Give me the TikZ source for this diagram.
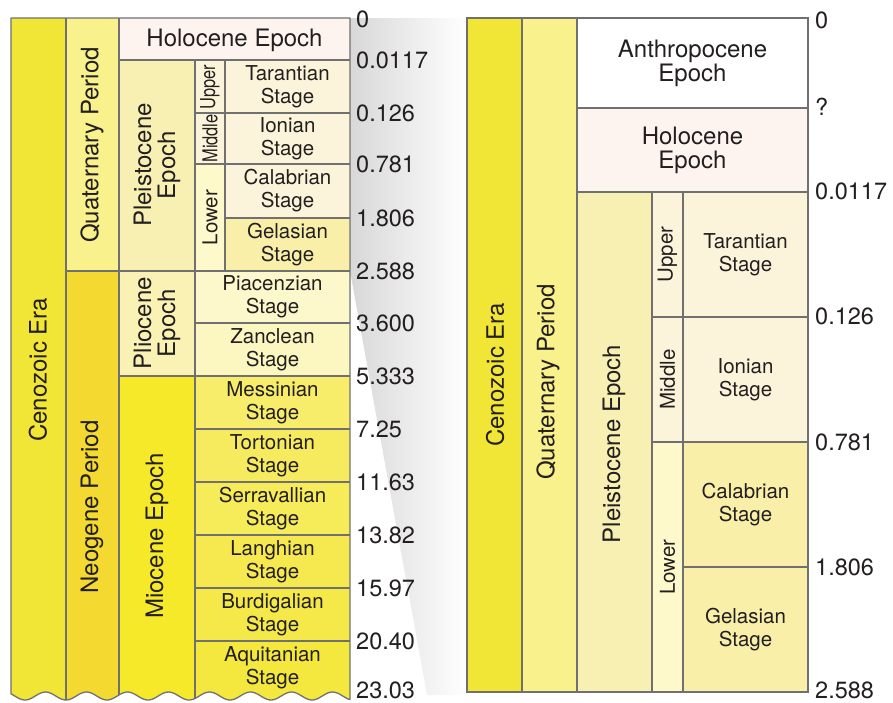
\documentclass[tikz,border=0pt]{standalone}
\usepackage{fontspec}
\setmainfont{TeX Gyre Heros}
\usepackage{graphicx}
\definecolor{txt}{HTML}{231F20}
\definecolor{grid}{HTML}{707070}
\definecolor{wedgegray}{HTML}{D8D8D8}
\definecolor{cera}{HTML}{F1E635}
\definecolor{cquat}{HTML}{F8F18C}
\definecolor{cneo}{HTML}{F3D930}
\definecolor{choloc}{HTML}{FDF3EF}
\definecolor{cpleist}{HTML}{F8F0B2}
\definecolor{ccream}{HTML}{FCF4DA}
\definecolor{clower}{HTML}{FDF9CA}
\definecolor{cgel}{HTML}{F9EFA8}
\definecolor{cplio}{HTML}{FAF2B5}
\definecolor{cpiac}{HTML}{FDF8CB}
\definecolor{czanc}{HTML}{FCF6C0}
\definecolor{cmio}{HTML}{F5E92A}
\definecolor{cmes}{HTML}{F7ED6A}
\definecolor{ctor}{HTML}{F6EB5E}
\definecolor{cser}{HTML}{F6EB58}
\definecolor{clan}{HTML}{F5E94F}
\definecolor{cbur}{HTML}{F5E849}
\definecolor{caqu}{HTML}{F4E73E}
\begin{document}
\begin{tikzpicture}[x=1pt,y=-1pt,
  gridline/.style={draw=grid,line width=1.3pt},
  lbl/.style={font=\fontsize{24}{24}\selectfont,align=center,text=txt,inner sep=0pt},
  stg/.style={font=\fontsize{20.5}{23}\selectfont,align=center,text=txt,inner sep=0pt},
  num/.style={font=\fontsize{23.5}{24}\selectfont,anchor=west,text=txt,inner sep=0pt}]
\useasboundingbox (0,0) rectangle (893,702);
% connecting wedge
\shade[left color=wedgegray,right color=white] (350,18) -- (467,18) -- (467,695) -- (427,695) -- (350,271) -- cycle;
% ---------------- left chart ----------------
\begin{scope}
\clip (11,18) -- (350,18) -- plot[domain=350:11,samples=160,smooth] (\x,{696+4*cos(8.7805*(\x-25))}) -- cycle;
\fill[cera] (11,18) rectangle (66,710);
\fill[cquat] (66,18) rectangle (119,271);
\fill[cneo] (66,271) rectangle (119,710);
\fill[choloc] (119,18) rectangle (350,60);
\fill[cpleist] (119,60) rectangle (195,271);
\fill[ccream] (195,60) rectangle (225,164);
\fill[clower] (195,164) rectangle (225,271);
\fill[ccream] (225,60) rectangle (350,218);
\fill[cgel] (225,218) rectangle (350,271);
\fill[cplio] (119,271) rectangle (195,376);
\fill[cpiac] (195,271) rectangle (350,323);
\fill[czanc] (195,323) rectangle (350,376);
\fill[cmio] (119,376) rectangle (195,710);
\fill[cmes] (195,376) rectangle (350,429);
\fill[ctor] (195,429) rectangle (350,482);
\fill[cser] (195,482) rectangle (350,535);
\fill[clan] (195,535) rectangle (350,588);
\fill[cbur] (195,588) rectangle (350,641);
\fill[caqu] (195,641) rectangle (350,710);
\draw[gridline] (66,18) -- (66,710) (119,18) -- (119,710) (195,60) -- (195,710) (225,60) -- (225,271);
\draw[gridline] (119,60) -- (350,60) (195,113) -- (350,113) (195,164) -- (350,164) (225,218) -- (350,218)
  (66,271) -- (350,271) (195,323) -- (350,323) (119,376) -- (350,376);
\foreach \yy in {429,482,535,588,641} \draw[gridline] (195,\yy) -- (350,\yy);
\end{scope}
\draw[gridline,line join=round] (11,18) -- (350,18) -- plot[domain=350:11,samples=160,smooth] (\x,{696+4*cos(8.7805*(\x-25))}) -- cycle;
% left labels
\node[lbl,rotate=90] (cenoL) at (38,370) {Cenozoic Era};
\node[lbl,rotate=90] (quatL) at (92,145) {Quaternary Period};
\node[lbl,rotate=90] (neoL) at (92,507) {Neogene Period};
\node[lbl] (holoL) at (234.5,40) {Holocene Epoch};
\node[lbl,rotate=90] (pleiL) at (157,165) {Pleistocene\\Epoch};
\node[lbl,rotate=90] (plioL) at (157,323) {Pliocene\\Epoch};
\node[lbl,rotate=90] (mioL) at (157,536) {Miocene Epoch};
\node[stg,rotate=90] (upL) at (210,87) {\scalebox{0.8}[1]{Upper}};
\node[stg,rotate=90] (midL) at (210,138.5) {\scalebox{0.8}[1]{Middle}};
\node[stg,rotate=90] (lowL) at (210,217.5) {Lower};
\node[stg] (tarL) at (287.5,86.5) {Tarantian\\Stage};
\node[stg] (ionL) at (287.5,138.5) {Ionian\\Stage};
\node[stg] (calL) at (287.5,191) {Calabrian\\Stage};
\node[stg] (gelL) at (287.5,244.5) {Gelasian\\Stage};
\node[stg] (piaL) at (272.5,297) {Piacenzian\\Stage};
\node[stg] (zanL) at (272.5,349.5) {Zanclean\\Stage};
\node[stg] (mesL) at (272.5,402.5) {Messinian\\Stage};
\node[stg] (torL) at (272.5,455.5) {Tortonian\\Stage};
\node[stg] (serL) at (272.5,508.5) {Serravallian\\Stage};
\node[stg] (lanL) at (272.5,561.5) {Langhian\\Stage};
\node[stg] (burL) at (272.5,614.5) {Burdigalian\\Stage};
\node[stg] (aquL) at (272.5,667.5) {Aquitanian\\Stage};
% left numbers
\foreach \yy/\t [count=\i] in {19/0,60/0.0117,113/0.126,164/0.781,218/1.806,271/2.588,323/3.600,376/5.333,429/7.25,482/11.63,535/13.82,588/15.97,641/20.40,690.5/23.03}
  \node[num] (nL\i) at (356,\yy) {\t};
% ---------------- right chart ----------------
\fill[cera] (467,18) rectangle (522,692);
\fill[cquat] (522,18) rectangle (577,692);
\fill[white] (577,18) rectangle (808,108);
\fill[choloc] (577,108) rectangle (808,192);
\fill[cpleist] (577,192) rectangle (652,692);
\fill[ccream] (652,192) rectangle (683,442);
\fill[clower] (652,442) rectangle (683,692);
\fill[ccream] (683,192) rectangle (808,442);
\fill[cgel] (683,442) rectangle (808,692);
\draw[gridline] (522,18) -- (522,692) (577,18) -- (577,692) (652,192) -- (652,692) (683,192) -- (683,692);
\draw[gridline] (577,108) -- (808,108) (577,192) -- (808,192) (652,317) -- (808,317) (652,442) -- (808,442) (683,567) -- (808,567);
\draw[gridline] (467,18) rectangle (808,692);
% right labels
\node[lbl,rotate=90] (cenoR) at (495,375) {Cenozoic Era};
\node[lbl,rotate=90] (quatR) at (548,382) {Quaternary Period};
\node[lbl,rotate=90] (pleiR) at (614,444) {Pleistocene Epoch};
\node[lbl] (anthR) at (692.5,63) {Anthropocene\\Epoch};
\node[lbl] (holoR) at (692.5,150) {Holocene\\Epoch};
\node[stg,rotate=90] (upR) at (667.5,254.5) {Upper};
\node[stg,rotate=90] (midR) at (667.5,379.5) {Middle};
\node[stg,rotate=90] (lowR) at (667.5,567) {Lower};
\node[stg] (tarR) at (745.5,255) {Tarantian\\Stage};
\node[stg] (ionR) at (745.5,380) {Ionian\\Stage};
\node[stg] (calR) at (745.5,505) {Calabrian\\Stage};
\node[stg] (gelR) at (745.5,630) {Gelasian\\Stage};
\foreach \yy/\t [count=\i] in {20/0,107/?,191/0.0117,316/0.126,442/0.781,567/1.806,690.5/2.588}
  \node[num] (nR\i) at (815,\yy) {\t};
\end{tikzpicture}
\end{document}
